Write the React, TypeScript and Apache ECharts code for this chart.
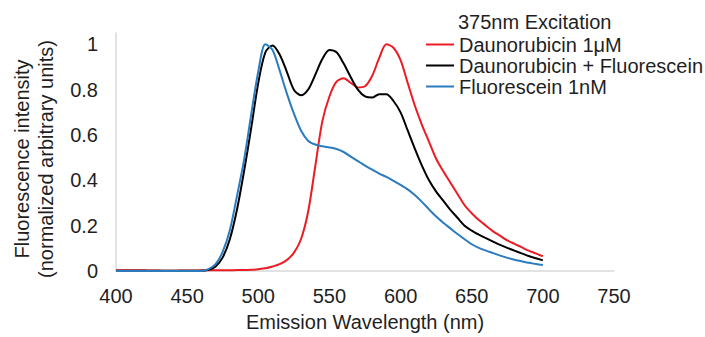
import React, { useEffect, useRef } from "react";
import * as echarts from "echarts";

const wavelengths: number[] = [
  400, 405, 410, 415, 420, 425, 430, 435, 440, 445, 450, 455, 460, 465, 470, 475, 480, 485, 490, 495,
  500, 505, 510, 515, 520, 525, 530, 535, 540, 545, 550, 555, 560, 565, 570, 575, 580, 585, 590, 595,
  600, 605, 610, 615, 620, 625, 630, 635, 640, 645, 650, 655, 660, 665, 670, 675, 680, 685, 690, 695, 700,
];

const daunorubicin: number[] = [
  0.003, 0.003, 0.003, 0.003, 0.003, 0.002, 0.002, 0.001, 0.001, 0.002, 0.002, 0.002, 0.003, 0.003, 0.003, 0.003, 0.003, 0.004, 0.004, 0.005,
  0.008, 0.012, 0.02, 0.03, 0.048, 0.08, 0.14, 0.26, 0.46, 0.66, 0.77, 0.835, 0.85, 0.83, 0.81, 0.815, 0.86, 0.94, 1.0, 0.985,
  0.93, 0.83, 0.73, 0.645, 0.57, 0.495, 0.44, 0.39, 0.34, 0.29, 0.255, 0.225, 0.2, 0.175, 0.155, 0.135, 0.12, 0.105, 0.09, 0.078, 0.065,
];

const combined: number[] = [
  0.001, 0.001, 0.001, 0.001, 0.001, 0.001, 0.001, 0.001, 0.001, 0.001, 0.001, 0.001, 0.001, 0.005, 0.02, 0.06, 0.14, 0.27, 0.44, 0.63,
  0.83, 0.965, 0.995, 0.955, 0.88, 0.8, 0.775, 0.8, 0.865, 0.935, 0.975, 0.965, 0.915, 0.855, 0.8, 0.77, 0.765, 0.78, 0.78, 0.75,
  0.7, 0.62, 0.54, 0.465, 0.4, 0.35, 0.31, 0.27, 0.235, 0.2, 0.178, 0.16, 0.145, 0.13, 0.115, 0.102, 0.09, 0.078, 0.066, 0.056, 0.047,
];

const fluorescein: number[] = [
  0, 0, 0, 0, 0, 0, 0, 0, 0, 0, 0, 0, 0, 0.008, 0.03, 0.085, 0.18, 0.33, 0.49, 0.69,
  0.88, 1.0, 0.975, 0.885, 0.785, 0.695, 0.62, 0.575, 0.558, 0.55, 0.545, 0.538, 0.525, 0.505, 0.485, 0.465, 0.447, 0.43, 0.415, 0.398,
  0.38, 0.36, 0.335, 0.305, 0.272, 0.24, 0.213, 0.188, 0.163, 0.14, 0.118, 0.102, 0.09, 0.079, 0.068, 0.058, 0.05, 0.043, 0.036, 0.031, 0.026,
];

const seriesNames: string[] = ["Daunorubicin 1μM", "Daunorubicin + Fluorescein", "Fluorescein 1nM"];
const seriesColors: string[] = ["#ec1c24", "#000000", "#2b7bbf"];
const legendTitle = "375nm Excitation";
const xAxisTitle = "Emission Wavelength (nm)";
const yAxisTitle = "Fluorescence intensity\n(normalized arbitrary units)";

const FONT = "'Liberation Sans', Arial, sans-serif";
const TEXT = "#1f1f1f";
const FS = 20;

export default function App() {
  const ref = useRef<HTMLDivElement>(null);
  useEffect(() => {
    document.body.style.margin = "0";
    if (!ref.current) return;
    const chart = echarts.init(ref.current, undefined, { renderer: "svg" });
    const values = [daunorubicin, combined, fluorescein];
    chart.setOption({
      animation: false,
      backgroundColor: "#ffffff",
      textStyle: { fontFamily: FONT },
      grid: { left: 116, right: 91, top: 33, bottom: 62, containLabel: false },
      xAxis: {
        type: "value",
        min: 400,
        max: 750,
        interval: 50,
        name: xAxisTitle,
        nameLocation: "middle",
        nameGap: 41,
        nameTextStyle: { fontSize: FS, color: TEXT, fontFamily: FONT },
        axisLine: { show: true, lineStyle: { color: "#d9d9d9", width: 1.5 } },
        axisTick: { show: false },
        splitLine: { show: false },
        axisLabel: { fontSize: FS, color: TEXT, margin: 15, fontFamily: FONT },
      },
      yAxis: {
        type: "value",
        min: 0,
        max: 1.05,
        interval: 0.2,
        axisLine: { show: true, lineStyle: { color: "#d9d9d9", width: 1.5 } },
        axisTick: { show: false },
        splitLine: { show: false },
        axisLabel: {
          fontSize: FS,
          color: TEXT,
          margin: 18,
          fontFamily: FONT,
          showMaxLabel: false,
          formatter: (v: number) => (Math.abs(v * 5 - Math.round(v * 5)) < 1e-6 ? String(Math.round(v * 10) / 10) : ""),
        },
      },
      legend: {
        show: true,
        orient: "vertical",
        left: 426,
        top: 34,
        padding: 0,
        itemWidth: 28,
        itemHeight: 2,
        itemGap: 0,
        icon: "rect",
        data: seriesNames,
        textStyle: { fontSize: FS, color: TEXT, fontFamily: FONT, lineHeight: 21 },
      },
      graphic: [
        {
          type: "text",
          x: 458,
          y: 22,
          style: {
            text: legendTitle,
            fontSize: FS,
            fontFamily: FONT,
            fill: TEXT,
            textAlign: "left",
            textVerticalAlign: "middle",
          },
        },
        {
          type: "text",
          x: 34,
          y: 159,
          rotation: Math.PI / 2,
          style: {
            text: yAxisTitle,
            fontSize: FS,
            lineHeight: 24,
            fontFamily: FONT,
            fill: TEXT,
            textAlign: "center",
            textVerticalAlign: "middle",
          },
        },
      ],
      series: seriesNames.map((name, i) => ({
        name,
        type: "line",
        smooth: 0.3,
        showSymbol: false,
        symbol: "none",
        color: seriesColors[i],
        lineStyle: { color: seriesColors[i], width: 2 },
        data: wavelengths.map((w, j) => [w, values[i][j]]),
      })),
    });
    return () => chart.dispose();
  }, []);
  return <div ref={ref} style={{ width: 705, height: 337 }} />;
}
